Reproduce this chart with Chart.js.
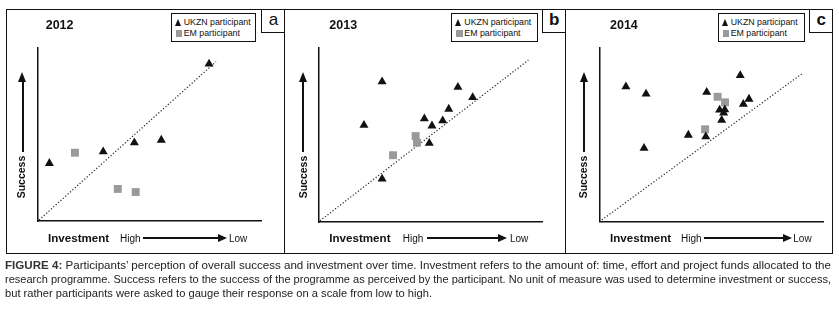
<!DOCTYPE html>
<html><head><meta charset="utf-8">
<script src="https://cdn.jsdelivr.net/npm/chart.js@4.4.1/dist/chart.umd.min.js"></script>
<style>
html,body{margin:0;padding:0;background:#fff;}
body{width:839px;height:309px;position:relative;overflow:hidden;font-family:"Liberation Sans",Arial,sans-serif;color:#111;}
canvas{position:absolute;left:0;top:0;}
.abs{position:absolute;white-space:nowrap;}
.box{position:absolute;border:1px solid #111;box-sizing:border-box;background:#fff;}
.tri{position:absolute;width:0;height:0;}
.capline{position:absolute;left:5px;white-space:nowrap;font-family:"Liberation Sans",Arial,sans-serif;font-size:11px;line-height:13px;color:#222;transform-origin:0 50%;}
</style></head>
<body>
<script>
// ---------------- DATA ----------------
const panelYears = ['2012', '2013', '2014'];
const panelLetters = ['a', 'b', 'c'];
const seriesNames = ['UKZN participant', 'EM participant'];
const xAxisTitle = 'Investment';
const yAxisTitle = 'Success';
const xLowHigh = ['High', 'Low'];

// 2012
const ukzn2012X = [76.4, 5.2, 29.2, 43.1, 55.1];
const ukzn2012Y = [90.6, 33.3, 40.0, 45.2, 46.7];
const em2012X = [16.6, 35.7, 43.7];
const em2012Y = [39.4, 18.5, 16.7];
const ref2012X = [0.6, 79.5];
const ref2012Y = [0.6, 91.9];

// 2013
const ukzn2013X = [28.2, 20.1, 62.1, 68.7, 58.0, 47.1, 50.5, 55.3, 49.3, 28.2];
const ukzn2013Y = [80.5, 55.5, 77.3, 71.5, 64.8, 59.3, 55.2, 58.1, 45.2, 24.7];
const em2013X = [43.2, 43.8, 33.1];
const em2013Y = [49.3, 45.5, 38.3];
const ref2013X = [0.4, 93.6];
const ref2013Y = [0.7, 92.9];

// 2014
const ukzn2014X = [11.9, 20.9, 20.0, 48.0, 63.0, 66.9, 64.4, 53.8, 56.1, 55.6, 54.7, 39.8, 47.6];
const ukzn2014Y = [77.6, 73.4, 42.2, 74.4, 84.1, 70.5, 67.6, 64.2, 64.4, 62.5, 58.4, 49.8, 48.9];
const em2014X = [52.9, 56.2, 47.3];
const em2014Y = [71.8, 68.6, 53.1];
const ref2014X = [1.1, 91.2];
const ref2014Y = [1.0, 85.6];

const captionLines = [
  "Participants\u2019 perception of overall success and investment over time. Investment refers to the amount of: time, effort and project funds allocated to the",
  "research programme. Success refers to the success of the programme as perceived by the participant. No unit of measure was used to determine investment or success,",
  "but rather participants were asked to gauge their response on a scale from low to high."
];
const captionLabel = 'FIGURE 4:';

// ---------------- LAYOUT ----------------
const W = 839, H = 309;
const panels = [
  {ux: ukzn2012X, uy: ukzn2012Y, ex: em2012X, ey: em2012Y, rx: ref2012X, ry: ref2012Y,
   area: [37.7, 47.7, 262, 221], title: 45.7, letter: [261.3, 284.5], legend: [170.7, 256.5],
   succ: 20.5, succArrow: 22.7, invest: 48, high: 120, arrow: [143, 227], low: 229, letterBold: false},
  {ux: ukzn2013X, uy: ukzn2013Y, ex: em2013X, ey: em2013Y, rx: ref2013X, ry: ref2013Y,
   area: [319, 47.7, 542.7, 222], title: 329.3, letter: [542.3, 565.3], legend: [451.3, 537.7],
   succ: 302.7, succArrow: 303.3, invest: 329.3, high: 402.7, arrow: [426.7, 506.7], low: 510, letterBold: true},
  {ux: ukzn2014X, uy: ukzn2014Y, ex: em2014X, ey: em2014Y, rx: ref2014X, ry: ref2014Y,
   area: [599.3, 47.7, 823, 221.7], title: 610, letter: [809, 832.3], legend: [717.7, 805],
   succ: 583.3, succArrow: 584.3, invest: 610, high: 681, arrow: [704.3, 791.7], low: 793.3, letterBold: true}
];

function el(tag, cls, css, text) {
  const e = document.createElement(tag);
  if (cls) e.className = cls;
  Object.assign(e.style, css || {});
  if (text != null) e.textContent = text;
  document.body.appendChild(e);
  return e;
}
function pts(xs, ys) { return xs.map((x, i) => ({x: x, y: ys[i]})); }

// outer frame
el('div', 'box', {left: '6px', top: '9px', width: '827px', height: '245px', background: 'transparent'});
el('div', '', {position: 'absolute', left: '284px', top: '9px', width: '1px', height: '245px', background: '#111'});
el('div', '', {position: 'absolute', left: '565px', top: '9px', width: '1px', height: '245px', background: '#111'});

panels.forEach((p, i) => {
  const cv = document.createElement('canvas');
  cv.width = W; cv.height = H;
  cv.style.width = W + 'px'; cv.style.height = H + 'px';
  document.body.appendChild(cv);
  const [L, T, R, B] = p.area;
  const axis = {
    type: 'linear', min: 0, max: 100, display: true,
    ticks: {display: false},
    grid: {display: false, drawTicks: false, tickLength: 0},
    border: {display: true, color: '#111', width: 1.5}
  };
  new Chart(cv, {
    type: 'scatter',
    data: {
      datasets: [
        {label: seriesNames[0], data: pts(p.ux, p.uy), pointStyle: 'triangle', pointRadius: 5.2,
         backgroundColor: '#111', borderWidth: 0, clip: false},
        {label: seriesNames[1], data: pts(p.ex, p.ey), pointStyle: 'rect', pointRadius: 5.6,
         backgroundColor: '#9a9a9a', borderWidth: 0, clip: false},
        {type: 'line', label: 'parity', data: pts(p.rx, p.ry), borderColor: '#222', borderWidth: 1.2,
         borderDash: [1.2, 2], pointRadius: 0, fill: false, clip: false}
      ]
    },
    options: {
      responsive: false, animation: false, devicePixelRatio: 1, events: [],
      layout: {padding: {left: L, top: T, right: W - R, bottom: H - B}},
      scales: {x: Object.assign({}, axis), y: Object.assign({}, axis)},
      plugins: {legend: {display: false}, tooltip: {enabled: false}, title: {display: false}}
    }
  });

  // year title
  el('div', 'abs', {left: p.title + 'px', top: '18px', fontSize: '12.5px', lineHeight: '14px', fontWeight: 'bold'}, panelYears[i]);
  // letter box
  el('div', 'box', {left: p.letter[0] + 'px', top: '9px', width: (p.letter[1] - p.letter[0] + 1) + 'px', height: '24px',
    fontSize: '17px', lineHeight: '20px', textAlign: 'center', fontWeight: p.letterBold ? 'bold' : 'normal'}, panelLetters[i]);
  // legend box
  const lg = el('div', 'box', {left: p.legend[0] + 'px', top: '13.3px', width: (p.legend[1] - p.legend[0]) + 'px', height: '29px'});
  const t1 = document.createElement('div');
  Object.assign(t1.style, {position: 'absolute', left: '3px', top: '4.5px', width: 0, height: 0,
    borderLeft: '3.8px solid transparent', borderRight: '3.8px solid transparent', borderBottom: '7px solid #111'});
  lg.appendChild(t1);
  const s1 = document.createElement('div');
  Object.assign(s1.style, {position: 'absolute', left: '12px', top: '2.5px', fontSize: '8.8px', lineHeight: '11px', whiteSpace: 'nowrap'});
  s1.textContent = seriesNames[0]; lg.appendChild(s1);
  const q2 = document.createElement('div');
  Object.assign(q2.style, {position: 'absolute', left: '4px', top: '16px', width: '6.5px', height: '6.5px', background: '#9a9a9a'});
  lg.appendChild(q2);
  const s2 = document.createElement('div');
  Object.assign(s2.style, {position: 'absolute', left: '12px', top: '14px', fontSize: '8.8px', lineHeight: '11px', whiteSpace: 'nowrap'});
  s2.textContent = seriesNames[1]; lg.appendChild(s2);

  // y axis title (rotated) + arrow
  el('div', 'abs', {left: p.succ + 'px', top: '177px', fontSize: '10.5px', fontWeight: 'bold', lineHeight: '12px',
    transform: 'translate(-50%,-50%) rotate(-90deg)'}, yAxisTitle);
  el('div', '', {position: 'absolute', left: (p.succArrow - 1) + 'px', top: '80px', width: '2px', height: '72px', background: '#111'});
  el('div', 'tri', {left: (p.succArrow - 4.5) + 'px', top: '72px', borderLeft: '4.5px solid transparent',
    borderRight: '4.5px solid transparent', borderBottom: '10px solid #111'});

  // x axis title + arrow
  el('div', 'abs', {left: p.invest + 'px', top: '231px', fontSize: '11.6px', fontWeight: 'bold', lineHeight: '14px'}, xAxisTitle);
  el('div', 'abs', {left: p.high + 'px', top: '232px', fontSize: '10px', lineHeight: '13px'}, xLowHigh[0]);
  el('div', 'abs', {left: p.low + 'px', top: '232px', fontSize: '10px', lineHeight: '13px'}, xLowHigh[1]);
  el('div', '', {position: 'absolute', left: p.arrow[0] + 'px', top: '237px', width: (p.arrow[1] - p.arrow[0] - 8) + 'px', height: '2px', background: '#111'});
  el('div', 'tri', {left: (p.arrow[1] - 9) + 'px', top: '234px', borderTop: '4px solid transparent',
    borderBottom: '4px solid transparent', borderLeft: '9px solid #111'});
});

// caption: each line scaled horizontally to the width it occupies in the figure
const capTargets = [826, 826, 427];
const capTops = [258.5, 272.5, 286.5];
captionLines.forEach((line, k) => {
  const d = el('div', 'capline', {top: capTops[k] + 'px'});
  if (k === 0) {
    const b = document.createElement('b');
    b.textContent = captionLabel + ' ';
    b.style.color = '#333';
    d.appendChild(b);
  }
  d.appendChild(document.createTextNode(line));
  const w = d.getBoundingClientRect().width;
  d.style.transform = 'scaleX(' + (capTargets[k] / w) + ')';
});
</script>
</body></html>
